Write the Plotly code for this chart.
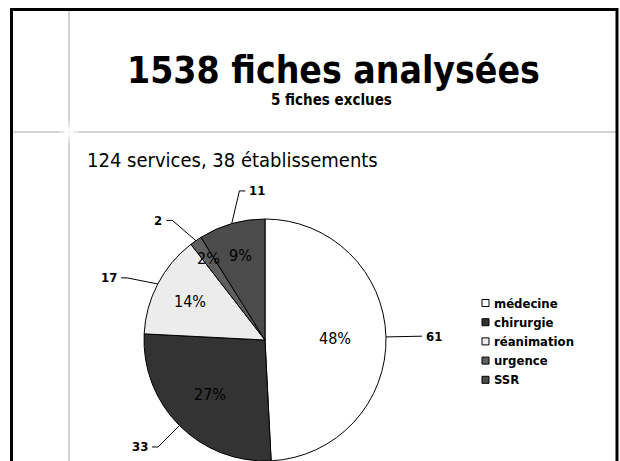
import math
import plotly.graph_objects as go

# ---- data ----
categories = ["médecine", "chirurgie", "réanimation", "urgence", "SSR"]
values = [61, 33, 17, 2, 11]
pct_labels = ["48%", "27%", "14%", "2%", "9%"]
colors = ["#ffffff", "#333333", "#ececec", "#5f5f5f", "#4b4b4b"]

title = "1538 fiches analysées"
subtitle = "5 fiches exclues"
heading = "124 services, 38 établissements"

# ---- layout constants (pixels) ----
W, H = 620, 461
CX, CY, R = 265, 340, 121
FONT = "DejaVu Sans Condensed, DejaVu Sans, sans-serif"
MIN_GAP = 28.0  # min angular spacing of outside labels (deg)


def pt(theta_deg, rr):
    t = math.radians(theta_deg)
    return CX + rr * math.sin(t), CY - rr * math.cos(t)


fig = go.Figure()

fig.add_trace(go.Pie(
    labels=categories, values=values, sort=False, direction="clockwise", rotation=0,
    marker=dict(colors=colors, line=dict(color="#000000", width=1)),
    textinfo="none", hoverinfo="label+value",
    domain=dict(x=[(CX - R) / W, (CX + R) / W], y=[1 - (CY + R) / H, 1 - (CY - R) / H]),
    showlegend=False,
))

total = sum(values)
mids, shares = [], []
cum = 0
for v in values:
    mids.append((cum + v / 2) / total * 360)
    shares.append(v / total)
    cum += v

# relax outside-label angles so neighbours keep a minimum spacing
lab = list(mids)
for _ in range(200):
    for i in range(len(lab) - 1):
        gap = lab[i + 1] - lab[i]
        if gap < MIN_GAP:
            d = (MIN_GAP - gap) / 2
            lab[i] -= d
            lab[i + 1] += d

annotations = []
lx, ly = [], []
for v, p, mid, share, la in zip(values, pct_labels, mids, shares, lab):
    frac = 1 - 0.5 * share ** 0.25
    px, py = pt(mid, R * frac)
    annotations.append(dict(x=px, y=py, xref="x", yref="y", text=p, showarrow=False,
                            font=dict(family=FONT, size=16, color="#000000"),
                            xanchor="center", yanchor="middle"))
    ex, ey = pt(mid, R)
    bx, by = pt(la, R * 1.25)
    right = bx >= ex
    hx = bx + (6 if right else -6)
    lx += [ex, bx, hx, None]
    ly += [ey, by, by, None]
    annotations.append(dict(x=hx + (2 if right else -2), y=by, xref="x", yref="y",
                            text=f"<b>{v}</b>", showarrow=False,
                            font=dict(family=FONT, size=13, color="#000000"),
                            xanchor="left" if right else "right", yanchor="middle"))

fig.add_trace(go.Scatter(x=lx, y=ly, mode="lines", line=dict(color="#000000", width=1),
                         hoverinfo="skip", showlegend=False))

# custom legend
shapes = []
LX, LY0, LDY = 482, 303, 19.2
for i, (cat, col) in enumerate(zip(categories, colors)):
    yy = LY0 + i * LDY
    shapes.append(dict(type="rect", xref="x", yref="y", x0=LX, x1=LX + 7, y0=yy - 3.5, y1=yy + 3.5,
                       fillcolor=col, line=dict(color="#000000", width=1)))
    annotations.append(dict(x=LX + 10, y=yy, xref="x", yref="y", text=f"<b>{cat}</b>",
                            showarrow=False, font=dict(family=FONT, size=13, color="#000000"),
                            xanchor="left", yanchor="middle"))

# slide decoration
shapes += [
    dict(type="line", xref="x", yref="y", x0=69, x1=69, y0=10, y1=H + 5,
         line=dict(color="#a8a8a8", width=1), layer="below"),
    dict(type="line", xref="x", yref="y", x0=11, x1=617, y0=132, y1=132,
         line=dict(color="#a8a8a8", width=1), layer="below"),
    dict(type="circle", xref="x", yref="y", x0=59, x1=79, y0=122, y1=142,
         fillcolor="rgba(255,255,255,0.45)", line=dict(width=0), layer="below"),
    dict(type="circle", xref="x", yref="y", x0=64, x1=74, y0=127, y1=137,
         fillcolor="rgba(255,255,255,0.8)", line=dict(width=0), layer="below"),
    dict(type="rect", xref="x", yref="y", x0=11.5, x1=617, y0=9.5, y1=H + 10,
         line=dict(color="#000000", width=3), fillcolor="rgba(0,0,0,0)", layer="below"),
]

annotations += [
    dict(x=333, y=70, xref="x", yref="y", text=f"<b>{title}</b>", showarrow=False,
         font=dict(family=FONT, size=37, color="#000000"), xanchor="center", yanchor="middle"),
    dict(x=331, y=100, xref="x", yref="y", text=f"<b>{subtitle}</b>", showarrow=False,
         font=dict(family=FONT, size=15, color="#000000"), xanchor="center", yanchor="middle"),
    dict(x=85, y=160, xref="x", yref="y", text=heading, showarrow=False,
         font=dict(family=FONT, size=20, color="#000000"), xanchor="left", yanchor="middle"),
]

fig.update_layout(
    width=W, height=H, margin=dict(l=0, r=0, t=0, b=0),
    paper_bgcolor="#ffffff", plot_bgcolor="#ffffff",
    xaxis=dict(range=[0, W], visible=False, fixedrange=True, domain=[0, 1]),
    yaxis=dict(range=[H, 0], visible=False, fixedrange=True, domain=[0, 1]),
    shapes=shapes, annotations=annotations, showlegend=False,
)

fig.write_html(
    "out.html",
    config={"displayModeBar": False},
    post_script="document.body.style.margin='0';document.body.style.overflow='hidden';",
)
